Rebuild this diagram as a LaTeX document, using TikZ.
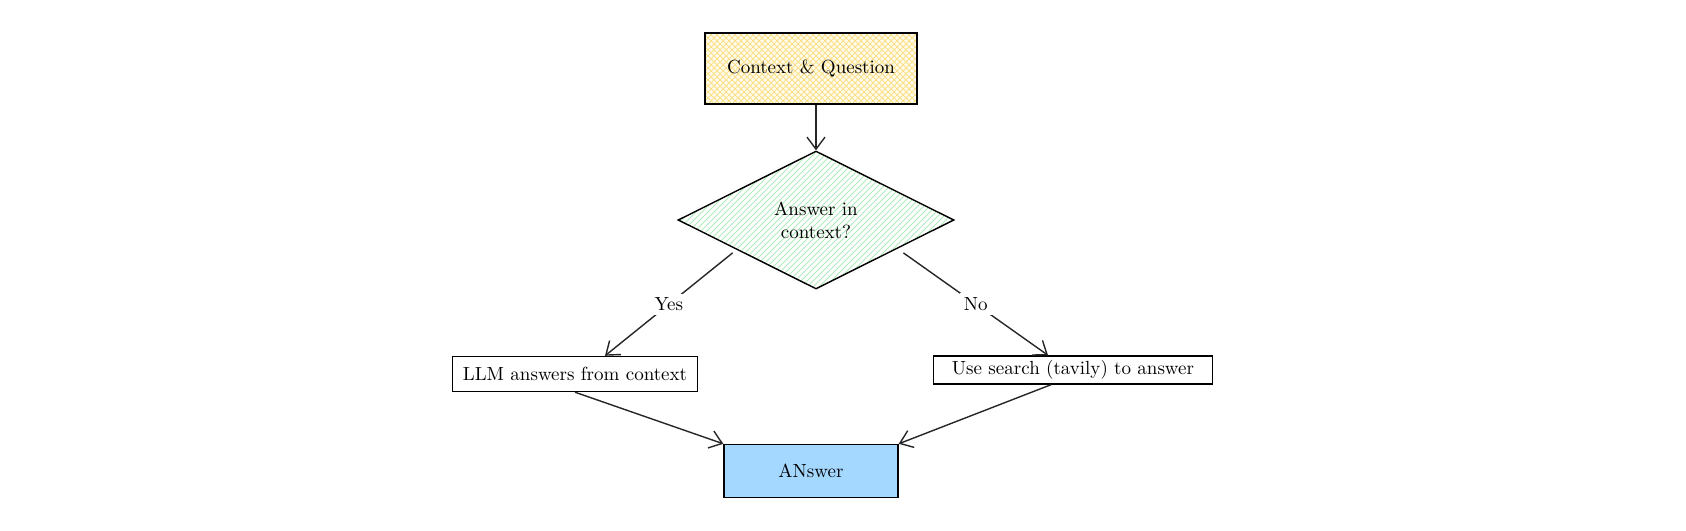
\documentclass[tikz,border=0pt]{standalone}
\usepackage{tikz}
\usetikzlibrary{shapes.geometric,patterns,arrows.meta}

\definecolor{hatchyellow}{HTML}{FBE08A}
\definecolor{paleyellow}{HTML}{FFFCEE}
\definecolor{hatchgreen}{HTML}{B2EBBA}
\definecolor{answerblue}{HTML}{A5D8FF}

\begin{document}
\begin{tikzpicture}[x=0.5pt, y=-0.5pt,
  box/.style={rectangle, draw, line width=0.7pt, inner sep=0pt, font=\fontsize{9.5}{11.5}\selectfont},
  choice/.style={diamond, draw, line width=0.7pt, inner sep=0pt, align=center, font=\fontsize{9.5}{11.5}\selectfont},
  flow/.style={-{Straight Barb[length=6pt,width=9pt]}, line width=0.7pt, draw=black!85},
  tag/.style={fill=white, inner sep=2pt, font=\fontsize{9.5}{11.5}\selectfont}]
  \useasboundingbox (0,0) rectangle (1686,530);
  % boxes
  \node[box, minimum width=106pt, minimum height=35.5pt,
        preaction={fill=paleyellow}, preaction={pattern=crosshatch, pattern color=hatchyellow}] (ctx) at (811,68.5) {Context \& Question};
  \node[choice, minimum width=138pt, minimum height=69pt,
        preaction={fill=white}, preaction={pattern=north east lines, pattern color=hatchgreen}] (dec) at (816,220) {Answer in\\context?};
  \node[box, minimum width=122.5pt, minimum height=17.5pt] (llm) at (575,374) {LLM answers from context};
  \node[box, minimum width=139.5pt, minimum height=14pt] (web) at (1073,370) {Use search (tavily) to answer};
  \node[box, minimum width=87pt, minimum height=26.5pt, fill=answerblue] (ans) at (811,471) {ANswer};
  % connectors
  \draw[flow] (dec.north |- ctx.south) -- (dec.north);
  \draw[flow] ([xshift=-7pt,yshift=1pt]dec.south west) -- node[tag] (yes) {Yes} ([xshift=15pt]llm.north);
  \draw[flow] ([xshift=9pt,yshift=1pt]dec.south east) -- node[tag] (no) {No} ([xshift=-12.5pt]web.north);
  \draw[flow] (llm.south) -- (ans.north west);
  \draw[flow] ([xshift=-11pt]web.south) -- (ans.north east);
\end{tikzpicture}
\end{document}
